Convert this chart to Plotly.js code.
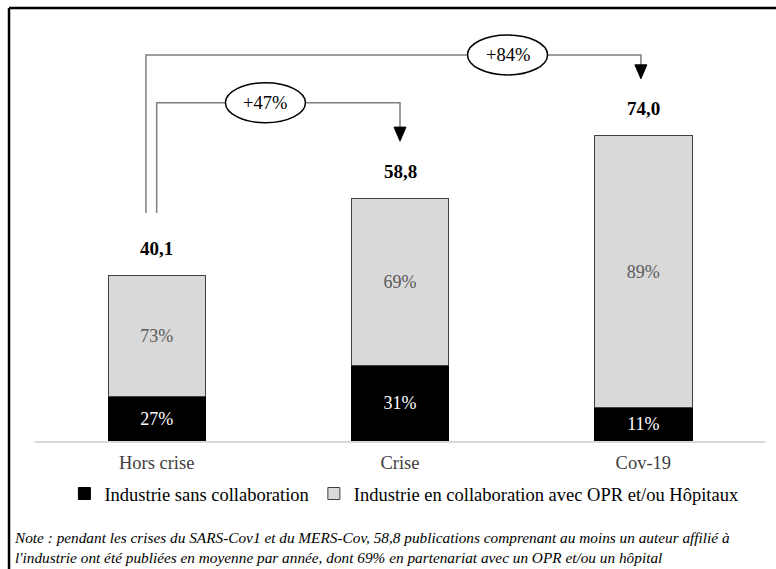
<!DOCTYPE html>
<html>
<head>
<meta charset="utf-8">
<script src="https://cdn.plot.ly/plotly-3.0.1.min.js"></script>
<style>html,body{margin:0;padding:0;background:#fff;}</style>
</head>
<body>
<div id="chart" style="width:776px;height:569px;"></div>
<script>
// ---- data ----
const categories = ['Hors crise', 'Crise', 'Cov-19'];
const totals = [40.1, 58.8, 74.0];
const sansCollab = [10.8, 18.2, 8.1];     // Industrie sans collaboration
const avecCollab = [29.3, 40.6, 65.9];    // Industrie en collaboration avec OPR et/ou Hôpitaux
const pctSans = ['27%', '31%', '11%'];
const pctAvec = ['73%', '69%', '89%'];
const seriesNames = ['Industrie sans collaboration', 'Industrie en collaboration avec OPR et/ou Hôpitaux'];
const growthLabels = ['+47%', '+84%'];
const noteText = "Note : pendant les crises du SARS-Cov1 et du MERS-Cov, 58,8 publications comprenant au moins un auteur affilié à<br>l'industrie ont été publiées en moyenne par année, dont 69% en partenariat avec un OPR et/ou un hôpital";

const serif = 'Liberation Serif';
const fmt = v => v.toFixed(1).replace('.', ',');

const traces = [
  {
    type: 'bar', name: seriesNames[0], x: categories, y: sansCollab,
    text: pctSans, texttemplate: '%{text}', textposition: 'inside',
    insidetextanchor: 'middle', constraintext: 'none',
    textfont: {family: serif, size: 18, color: '#ffffff'},
    marker: {color: '#000000', line: {color: '#000000', width: 1}},
    hoverinfo: 'skip'
  },
  {
    type: 'bar', name: seriesNames[1], x: categories, y: avecCollab,
    text: pctAvec, texttemplate: '%{text}', textposition: 'inside',
    insidetextanchor: 'middle', constraintext: 'none',
    textfont: {family: serif, size: 18, color: '#595959'},
    marker: {color: '#d9d9d9', line: {color: '#404040', width: 1}},
    hoverinfo: 'skip'
  }
];

// connector geometry (data units relative to totals)
const to1 = 1;
const lowTop = 82;     // horizontal line of +47%
const highTop = 93.6;  // horizontal line of +84%
const startY = totals[0] + 15.2;
const tip1 = totals[1] + 13.9;
const tip2 = totals[2] + 13.8;
const xOuter = -0.044, xInner = 0.0, xEnd2 = 1.99;
const ell1x = 0.447, ell2x = 1.442;

const lineStyle = {color: '#7f7f7f', width: 1.5};
const shapes = [
  // frame (left + top)
  {type: 'line', xref: 'paper', yref: 'paper', x0: -0.0356, x1: -0.0356, y0: -0.4, y1: 1.0093, line: {color: '#000', width: 2.5}},
  {type: 'line', xref: 'paper', yref: 'paper', x0: -0.0356, x1: 1.1, y0: 1.0093, y1: 1.0093, line: {color: '#000', width: 2.5}},
  // +84% connector
  {type: 'path', xref: 'x', yref: 'y',
   path: `M${xOuter},${startY} L${xOuter},${highTop} L${xEnd2},${highTop} L${xEnd2},${tip2 + 3}`, line: lineStyle},
  // +47% connector
  {type: 'path', xref: 'x', yref: 'y',
   path: `M${xInner},${startY} L${xInner},${lowTop} L${to1},${lowTop} L${to1},${tip1 + 3}`, line: lineStyle},
  // arrow heads
  {type: 'path', xref: 'x', yref: 'y', xsizemode: 'pixel', ysizemode: 'pixel', xanchor: to1, yanchor: tip1,
   path: 'M-6,14 L6,14 L0,0 Z', fillcolor: '#000', line: {color: '#000', width: 1}},
  {type: 'path', xref: 'x', yref: 'y', xsizemode: 'pixel', ysizemode: 'pixel', xanchor: xEnd2, yanchor: tip2,
   path: 'M-6,14 L6,14 L0,0 Z', fillcolor: '#000', line: {color: '#000', width: 1}},
  // ellipses
  {type: 'circle', xref: 'x', yref: 'y', xsizemode: 'pixel', ysizemode: 'pixel', xanchor: ell1x, yanchor: lowTop,
   x0: -40, x1: 40, y0: -20, y1: 20, fillcolor: '#ffffff', line: {color: '#000', width: 1.5}},
  {type: 'circle', xref: 'x', yref: 'y', xsizemode: 'pixel', ysizemode: 'pixel', xanchor: ell2x, yanchor: highTop,
   x0: -40, x1: 40, y0: -20, y1: 20, fillcolor: '#ffffff', line: {color: '#000', width: 1.5}}
];

const annotations = [];
totals.forEach((t, i) => {
  annotations.push({x: categories[i], y: t, xref: 'x', yref: 'y', text: '<b>' + fmt(t) + '</b>',
    showarrow: false, yanchor: 'middle', yshift: 27, font: {family: serif, size: 19, color: '#000'}});
});
annotations.push({x: ell1x, y: lowTop, xref: 'x', yref: 'y', text: growthLabels[0], showarrow: false,
  font: {family: serif, size: 18.5, color: '#000'}});
annotations.push({x: ell2x, y: highTop, xref: 'x', yref: 'y', text: growthLabels[1], showarrow: false,
  font: {family: serif, size: 18.5, color: '#000'}});
annotations.push({x: -0.0315, y: -0.201, xref: 'paper', yref: 'paper', xanchor: 'left', yanchor: 'top',
  align: 'left', text: '<i>' + noteText + '</i>', showarrow: false,
  font: {family: serif, size: 15.3, color: '#000'}});

const layout = {
  width: 776, height: 569,
  margin: {l: 35, r: 11, t: 12, b: 128},
  paper_bgcolor: '#ffffff', plot_bgcolor: '#ffffff',
  barmode: 'stack', bargap: 0.6,
  showlegend: true,
  legend: {orientation: 'h', x: 0.506, xanchor: 'center', y: -0.1235, yanchor: 'middle',
    font: {family: serif, size: 18.5, color: '#000'}, traceorder: 'normal'},
  xaxis: {type: 'category', range: [-0.5, 2.5], showline: true, linecolor: '#d9d9d9', linewidth: 1.5,
    ticks: '', ticklabelstandoff: 4, tickfont: {family: serif, size: 18.5, color: '#404040'}, fixedrange: true},
  yaxis: {range: [0, 104], visible: false, showgrid: false, zeroline: false, fixedrange: true},
  shapes: shapes,
  annotations: annotations,
  font: {family: serif}
};

Plotly.newPlot('chart', traces, layout, {displayModeBar: false, staticPlot: true});
</script>
</body>
</html>
